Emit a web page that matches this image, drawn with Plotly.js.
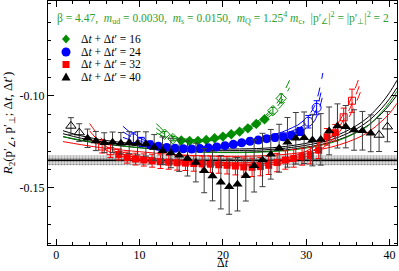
<!DOCTYPE html>
<html><head><meta charset="utf-8">
<script src="https://cdn.plot.ly/plotly-3.0.1.min.js"></script>
<style>html,body{margin:0;padding:0;background:#fff}</style>
</head><body><div id="chart" style="width:399px;height:271px"></div>
<script>
// ---------- data ----------
const legendLabels = ['Δ<i>t</i> + Δ<i>t</i>′ = 16', 'Δ<i>t</i> + Δ<i>t</i>′ = 24', 'Δ<i>t</i> + Δ<i>t</i>′ = 32', 'Δ<i>t</i> + Δ<i>t</i>′ = 40'];
const paramText = 'β = 4.47,  <i>m</i><sub>ud</sub> = 0.0030,  <i>m</i><sub>s</sub> = 0.0150,  <i>m</i><sub>Q</sub> = 1.25<sup>4</sup> <i>m</i><sub>c</sub>,  |p′<sub>∠</sub>|<sup>2</sup> = |p′<sub>⊥</sub>|<sup>2</sup> = 2';
const xTitle = 'Δ<i>t</i>';
const yTitle = '<i>R</i><sub>2</sub>(p′<sub>∠</sub>, p′<sub>⊥</sub>; Δ<i>t</i>, Δ<i>t</i>′)';
const yTickVals = [-0.15, -0.10];
const yTickText = ['-0.15', '-0.10'];

// Δt+Δt'=16 (green diamonds)
const greenX    = [13, 14, 15, 16, 17, 18, 19, 20, 21, 22, 23, 24, 25, 26, 27];
const greenY    = [-0.1208, -0.1232, -0.1242, -0.1245, -0.1244, -0.1239, -0.1230, -0.1221, -0.1208, -0.1194, -0.1176, -0.1152, -0.1127, -0.1080, -0.1013];
const greenErr  = [0.0015, 0.0012, 0.0010, 0.0009, 0.0008, 0.0008, 0.0008, 0.0008, 0.0008, 0.0009, 0.0009, 0.0010, 0.0012, 0.0018, 0.0024];
const greenOpen = [1, 1, 0, 0, 0, 0, 0, 0, 0, 0, 0, 0, 0, 1, 1];

// Δt+Δt'=24 (blue circles)
const blueX    = [9.25, 10.25, 11.25, 12.25, 13.25, 14.25, 15.25, 16.25, 17.25, 18.25, 19.25, 20.25, 21.25, 22.25, 23.25, 24.25, 25.25, 26.25, 27.25, 28.25, 29.25, 30.25, 31.25];
const blueY    = [-0.1230, -0.1250, -0.1265, -0.1274, -0.1280, -0.1284, -0.1287, -0.1288, -0.1286, -0.1282, -0.1277, -0.1270, -0.1263, -0.1255, -0.1246, -0.1240, -0.1232, -0.1226, -0.1222, -0.1215, -0.1193, -0.1140, -0.1064];
const blueErr  = [0.0030, 0.0025, 0.0020, 0.0018, 0.0016, 0.0015, 0.0015, 0.0015, 0.0015, 0.0015, 0.0015, 0.0015, 0.0015, 0.0015, 0.0016, 0.0016, 0.0017, 0.0018, 0.0019, 0.0020, 0.0022, 0.0034, 0.0038];
const blueOpen = [1, 1, 0, 0, 0, 0, 0, 0, 0, 0, 0, 0, 0, 0, 0, 0, 0, 0, 0, 0, 0, 1, 1];

// Δt+Δt'=32 (red squares)
const redX    = [5.5, 6.5, 7.5, 8.5, 9.5, 10.5, 11.5, 12.5, 13.5, 14.5, 15.5, 16.5, 17.5, 18.5, 19.5, 20.5, 21.5, 22.5, 23.5, 24.5, 25.5, 26.5, 27.5, 28.5, 29.5, 30.5, 31.5, 32.5, 33.5, 34.5, 35.5];
const redY    = [-0.1275, -0.1300, -0.1318, -0.1335, -0.1343, -0.1348, -0.1352, -0.1357, -0.1360, -0.1363, -0.1365, -0.1367, -0.1369, -0.1371, -0.1374, -0.1377, -0.1381, -0.1386, -0.1388, -0.1384, -0.1377, -0.1362, -0.1348, -0.1339, -0.1330, -0.1324, -0.1295, -0.1222, -0.1200, -0.1116, -0.1026];
const redErr  = [0.0035, 0.0035, 0.0030, 0.0030, 0.0032, 0.0033, 0.0035, 0.0037, 0.0038, 0.0040, 0.0040, 0.0042, 0.0043, 0.0045, 0.0046, 0.0047, 0.0048, 0.0049, 0.0050, 0.0050, 0.0050, 0.0050, 0.0050, 0.0048, 0.0046, 0.0045, 0.0045, 0.0045, 0.0045, 0.0050, 0.0063];
const redOpen = [1, 1, 0, 0, 0, 0, 0, 0, 0, 0, 0, 0, 0, 0, 0, 0, 0, 0, 0, 0, 0, 0, 0, 0, 0, 0, 0, 0, 0, 1, 1];

// Δt+Δt'=40 (black triangles)
const blackX    = [1.75, 2.75, 3.75, 4.75, 5.75, 6.75, 7.75, 8.75, 9.75, 10.75, 11.75, 12.75, 13.75, 14.75, 15.75, 16.75, 17.75, 18.75, 19.75, 20.75, 21.75, 22.75, 23.75, 24.75, 25.75, 26.75, 27.75, 28.75, 29.75, 30.75, 31.75, 32.75, 33.75, 34.75, 35.75, 36.75, 37.75, 38.75, 39.75];
const blackY    = [-0.1163, -0.1199, -0.1230, -0.1245, -0.1254, -0.1252, -0.1257, -0.1254, -0.1257, -0.1261, -0.1280, -0.1298, -0.1310, -0.1322, -0.1340, -0.1362, -0.1406, -0.1435, -0.1469, -0.1493, -0.1480, -0.1433, -0.1380, -0.1348, -0.1317, -0.1284, -0.1252, -0.1230, -0.1227, -0.1240, -0.1236, -0.1190, -0.1163, -0.1167, -0.1185, -0.1189, -0.1203, -0.1212, -0.1167];
const blackErr  = [0.0045, 0.0048, 0.0050, 0.0052, 0.0054, 0.0056, 0.0058, 0.0060, 0.0063, 0.0066, 0.0070, 0.0075, 0.0080, 0.0088, 0.0095, 0.0105, 0.0120, 0.0135, 0.0145, 0.0150, 0.0145, 0.0138, 0.0142, 0.0145, 0.0135, 0.0130, 0.0135, 0.0140, 0.0140, 0.0140, 0.0140, 0.0130, 0.0120, 0.0115, 0.0110, 0.0105, 0.0100, 0.0090, 0.0082];
const blackOpen = [1, 1, 0, 0, 0, 0, 0, 0, 0, 0, 0, 0, 0, 0, 0, 0, 0, 0, 0, 0, 0, 0, 0, 0, 0, 0, 0, 0, 0, 0, 0, 0, 0, 0, 0, 0, 0, 1, 1];

// fit curves (centre value and half band width, read at sample points)
const greenFitX = [12, 13, 14, 15, 17, 19, 21, 23, 24, 25, 26, 27, 28];
const greenFitY = [-0.1175, -0.1208, -0.1228, -0.1238, -0.1244, -0.1234, -0.1208, -0.1174, -0.1150, -0.1120, -0.1082, -0.1030, -0.0955];
const greenFitE = [0.0025, 0.0015, 0.0010, 0.0007, 0.0006, 0.0006, 0.0006, 0.0007, 0.0008, 0.0010, 0.0015, 0.0025, 0.0040];
const greenFitRange = [15, 25];

const blueFitX = [8, 9, 10, 11, 13, 15, 17, 19, 21, 23, 25, 27, 29, 30, 31, 32];
const blueFitY = [-0.1195, -0.1222, -0.1243, -0.1260, -0.1278, -0.1286, -0.1286, -0.1279, -0.1266, -0.1250, -0.1232, -0.1210, -0.1178, -0.1148, -0.1095, -0.0935];
const blueFitE = [0.0030, 0.0020, 0.0015, 0.0010, 0.0008, 0.0007, 0.0007, 0.0007, 0.0007, 0.0008, 0.0009, 0.0012, 0.0020, 0.0028, 0.0040, 0.0060];
const blueFitRange = [11, 29];

const redFitX = [4, 5, 6, 7, 8, 10, 12, 15, 18, 21, 24, 26, 28, 30, 32, 33, 34, 35, 36, 36.5];
const redFitY = [-0.1190, -0.1240, -0.1275, -0.1300, -0.1318, -0.1338, -0.1350, -0.1361, -0.1367, -0.1371, -0.1370, -0.1362, -0.1345, -0.1315, -0.1262, -0.1220, -0.1165, -0.1090, -0.0990, -0.0930];
const redFitE = [0.0040, 0.0030, 0.0020, 0.0015, 0.0012, 0.0010, 0.0009, 0.0008, 0.0008, 0.0008, 0.0009, 0.0010, 0.0012, 0.0015, 0.0020, 0.0025, 0.0030, 0.0037, 0.0045, 0.0050];
const redFitRange = [7, 34];

const blackFitX = [0.8, 3, 6, 10, 14, 18, 22, 26, 29, 32, 34, 36, 37.5, 39, 40, 40.9];
const blackFitY = [-0.1205, -0.1230, -0.1252, -0.1272, -0.1287, -0.1296, -0.1297, -0.1290, -0.1275, -0.1250, -0.1222, -0.1180, -0.1135, -0.1070, -0.1015, -0.0955];
const blackFitE = [0.0016, 0.0013, 0.0010, 0.0009, 0.0009, 0.0009, 0.0009, 0.0009, 0.0010, 0.0012, 0.0014, 0.0018, 0.0022, 0.0028, 0.0033, 0.0040];
const blackGreenLineY = [-0.1221, -0.1240, -0.1262, -0.1282, -0.1297, -0.1306, -0.1308, -0.1302, -0.1290, -0.1266, -0.1240, -0.1200, -0.1160, -0.1090, -0.1035, -0.0975];
const blackRedLineY   = [-0.1248, -0.1265, -0.1285, -0.1303, -0.1318, -0.1326, -0.1328, -0.1322, -0.1310, -0.1288, -0.1265, -0.1232, -0.1195, -0.1140, -0.1095, -0.1040];

// horizontal reference value with its error band
const refValue = -0.1350;
const refErr = 0.0027;

// ---------- styling ----------
const FONT = "'Liberation Serif', 'Times New Roman', serif";
const GREEN = '#008c00', BLUE = '#0000ff', RED = '#ff0000', BLACK = '#000000';
const xRange = [-1, 40.9];
const yRange = [-0.181, -0.0484];

const traces = [];

// band + line
traces.push({x: [xRange[0], xRange[1], xRange[1], xRange[0]],
  y: [refValue - refErr, refValue - refErr, refValue + refErr, refValue + refErr],
  mode: 'lines', fill: 'toself', fillcolor: '#e6e6e6', line: {width: 0},
  fillpattern: {shape: '.', fgcolor: '#8a8a8a', bgcolor: '#e0e0e0', size: 3, solidity: 0.4},
  hoverinfo: 'skip', showlegend: false});
traces.push({x: [xRange[0], xRange[1]], y: [refValue, refValue], mode: 'lines',
  line: {color: '#000', width: 1.5}, hoverinfo: 'skip', showlegend: false});

function addFit(xs, ys, es, range, color) {
  const sets = [ys, ys.map((v, i) => v + es[i]), ys.map((v, i) => v - es[i])];
  sets.forEach(yy => {
    const segs = [
      {f: x => x <= range[0], dash: 'dash'},
      {f: x => x >= range[0] && x <= range[1], dash: 'solid'},
      {f: x => x >= range[1], dash: 'dash'}];
    segs.forEach(s => {
      const xi = [], yi = [];
      xs.forEach((x, i) => { if (s.f(x)) { xi.push(x); yi.push(yy[i]); } });
      if (xi.length > 1) traces.push({x: xi, y: yi, mode: 'lines',
        line: {color: color, width: 1, dash: s.dash, shape: 'spline', smoothing: 1},
        hoverinfo: 'skip', showlegend: false});
    });
  });
}
addFit(blackFitX, blackFitY, blackFitE, [-5, 50], BLACK);
traces.push({x: blackFitX, y: blackGreenLineY, mode: 'lines', line: {color: GREEN, width: 1, shape: 'spline'}, showlegend: false, hoverinfo: 'skip'});
traces.push({x: blackFitX, y: blackRedLineY, mode: 'lines', line: {color: RED, width: 1, shape: 'spline'}, showlegend: false, hoverinfo: 'skip'});
addFit(redFitX, redFitY, redFitE, redFitRange, RED);
addFit(blueFitX, blueFitY, blueFitE, blueFitRange, BLUE);
addFit(greenFitX, greenFitY, greenFitE, greenFitRange, GREEN);

function addData(xs, ys, es, open, color, barColor, symbol, size, capw) {
  [0, 1].forEach(o => {
    const xi = [], yi = [], ei = [];
    xs.forEach((x, i) => { if (open[i] === o) { xi.push(x); yi.push(ys[i]); ei.push(es[i]); } });
    traces.push({x: xi, y: yi, mode: 'markers', type: 'scatter',
      error_y: {type: 'data', array: ei, visible: true, color: barColor, thickness: 1, width: capw},
      marker: {symbol: o ? symbol + '-open' : symbol, size: size, color: color,
               line: {color: color, width: o ? 1 : 0}},
      hoverinfo: 'skip', showlegend: false});
  });
}
addData(greenX, greenY, greenErr, greenOpen, GREEN, GREEN, 'diamond', 8, 2);
addData(blueX, blueY, blueErr, blueOpen, BLUE, BLUE, 'circle', 9, 3);
addData(redX, redY, redErr, redOpen, RED, RED, 'square', 7, 3);
addData(blackX, blackY, blackErr, blackOpen, BLACK, '#3c3c3c', 'triangle-up', 9, 3);

// manual legend glyphs
const lgX = 0.0516, lgY = [0.8443, 0.791, 0.7398, 0.6885];
const shapes = [
  {type: 'path', xref: 'paper', yref: 'paper', xsizemode: 'pixel', ysizemode: 'pixel', xanchor: lgX, yanchor: lgY[0],
   path: 'M 0,4.5 L 4,0 L 0,-4.5 L -4,0 Z', fillcolor: GREEN, line: {width: 0}},
  {type: 'circle', xref: 'paper', yref: 'paper', xsizemode: 'pixel', ysizemode: 'pixel', xanchor: lgX, yanchor: lgY[1],
   x0: -4.5, x1: 4.5, y0: -4.5, y1: 4.5, fillcolor: BLUE, line: {width: 0}},
  {type: 'rect', xref: 'paper', yref: 'paper', xsizemode: 'pixel', ysizemode: 'pixel', xanchor: lgX, yanchor: lgY[2],
   x0: -3.5, x1: 3.5, y0: -3.5, y1: 3.5, fillcolor: RED, line: {width: 0}},
  {type: 'path', xref: 'paper', yref: 'paper', xsizemode: 'pixel', ysizemode: 'pixel', xanchor: lgX, yanchor: lgY[3],
   path: 'M -4.5,-3.5 L 4.5,-3.5 L 0,4.5 Z', fillcolor: BLACK, line: {width: 0}}
];

const annotations = legendLabels.map((t, i) => ({
  text: t, xref: 'paper', yref: 'paper', x: 0.0917, y: lgY[i], xanchor: 'left', yanchor: 'middle',
  showarrow: false, font: {family: FONT, size: 11.5, color: '#000'}, borderpad: 0}));
annotations.push({text: paramText, xref: 'paper', yref: 'paper', x: 0.024, y: 0.93, xanchor: 'left', yanchor: 'middle',
  showarrow: false, font: {family: FONT, size: 11.5, color: '#2ea02e'}, borderpad: 0});
// x-axis title placed just under the tick labels
annotations.push({text: xTitle, xref: 'paper', yref: 'paper', x: 0.5, y: -0.1066, xanchor: 'center', yanchor: 'bottom',
  showarrow: false, font: {family: FONT, size: 12, color: '#000'}, borderpad: 0});

const layout = {
  width: 399, height: 271,
  margin: {l: 48, r: 2, t: 1, b: 26, pad: 0},
  paper_bgcolor: '#fff', plot_bgcolor: '#fff',
  showlegend: false,
  font: {family: FONT, size: 12, color: '#000'},
  xaxis: {range: xRange, showline: true, linecolor: '#000', linewidth: 1.2, mirror: 'allticks',
    ticks: 'inside', ticklen: 6, tickwidth: 1, tickcolor: '#000', tick0: 0, dtick: 10,
    minor: {dtick: 2, ticklen: 3, ticks: 'inside', tickcolor: '#000'},
    ticklabelstandoff: -2,
    showgrid: false, zeroline: false, tickfont: {family: FONT, size: 12}},
  yaxis: {range: yRange, showline: true, linecolor: '#000', linewidth: 1.2, mirror: 'allticks',
    ticks: 'inside', ticklen: 6, tickwidth: 1, tickcolor: '#000',
    tickmode: 'array', tickvals: yTickVals, ticktext: yTickText,
    minor: {dtick: 0.01, tick0: -0.15, ticklen: 3, ticks: 'inside', tickcolor: '#000'},
    showgrid: false, zeroline: false, tickfont: {family: FONT, size: 12},
    title: {text: yTitle, font: {family: FONT, size: 13}, standoff: 4}},
  shapes: shapes,
  annotations: annotations
};

Plotly.newPlot('chart', traces, layout, {staticPlot: true, displayModeBar: false});
</script></body></html>
